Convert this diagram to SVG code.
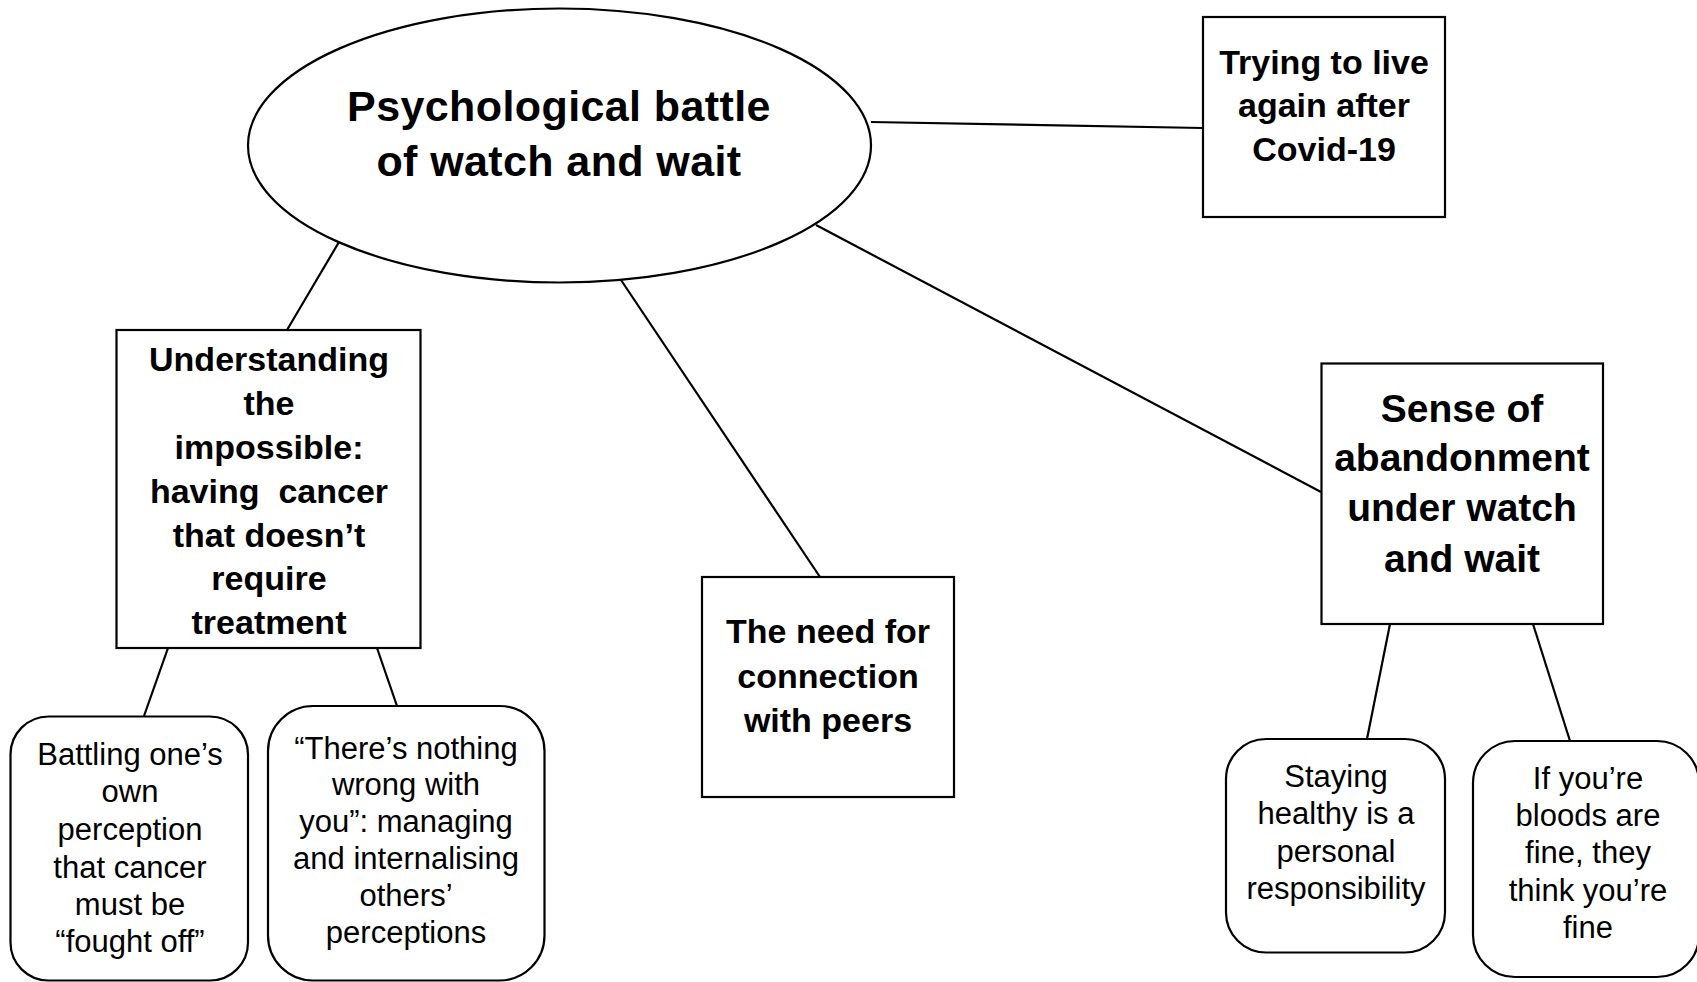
<svg xmlns="http://www.w3.org/2000/svg" width="1697" height="982" viewBox="0 0 1697 982">
<style>
.shape{fill:#fff;stroke:#000;stroke-width:2.2}
.conn line{stroke:#000;stroke-width:2.2}
text{font-family:"Liberation Sans",Arial,sans-serif;fill:#000;text-anchor:middle}
.b{font-weight:bold}
.s{font-size:31px}
</style>
<rect width="1697" height="982" fill="#fff"/>
<g id="connectors" class="conn">
<line x1="871" y1="122" x2="1203" y2="128"/>
<line x1="339" y1="242" x2="287" y2="330"/>
<line x1="621" y1="280" x2="820" y2="577"/>
<line x1="816" y1="225" x2="1321" y2="492"/>
<line x1="168" y1="648" x2="144" y2="716"/>
<line x1="377" y1="648" x2="397" y2="706"/>
<line x1="1390" y1="624" x2="1367" y2="739"/>
<line x1="1533" y1="624" x2="1570" y2="741"/>
</g>
<g id="n-main">
<ellipse class="shape" cx="559.5" cy="145.5" rx="311.5" ry="137"/>
<text class="b" font-size="43" letter-spacing="0.4"><tspan x="559" y="121">Psychological battle</tspan><tspan x="559" y="176">of watch and wait</tspan></text>
</g>
<g id="n-covid">
<rect class="shape" x="1203" y="17" width="242" height="200"/>
<text class="b" font-size="34"><tspan x="1324" y="74">Trying to live</tspan><tspan x="1324" y="117">again after</tspan><tspan x="1324" y="161">Covid-19</tspan></text>
</g>
<g id="n-understanding">
<rect class="shape" x="116.5" y="330" width="304" height="318"/>
<text class="b" font-size="34" xml:space="preserve"><tspan x="269" y="371">Understanding</tspan><tspan x="269" y="415">the</tspan><tspan x="269" y="459">impossible:</tspan><tspan x="269" y="503">having  cancer</tspan><tspan x="269" y="547">that doesn’t</tspan><tspan x="269" y="590">require</tspan><tspan x="269" y="634">treatment</tspan></text>
</g>
<g id="n-peers">
<rect class="shape" x="702" y="577" width="252" height="220"/>
<text class="b" font-size="34"><tspan x="828" y="643">The need for</tspan><tspan x="828" y="688">connection</tspan><tspan x="828" y="732">with peers</tspan></text>
</g>
<g id="n-abandonment">
<rect class="shape" x="1321.5" y="363.5" width="281.5" height="260.5"/>
<text class="b" font-size="39"><tspan x="1462" y="422">Sense of</tspan><tspan x="1462" y="471">abandonment</tspan><tspan x="1462" y="521">under watch</tspan><tspan x="1462" y="572">and wait</tspan></text>
</g>
<g id="n-battling">
<rect class="shape" x="10.5" y="716.5" width="237.5" height="264" rx="38"/>
<text class="s"><tspan x="130" y="765">Battling one’s</tspan><tspan x="130" y="802">own</tspan><tspan x="130" y="840">perception</tspan><tspan x="130" y="878">that cancer</tspan><tspan x="130" y="915">must be</tspan><tspan x="130" y="952">“fought off”</tspan></text>
</g>
<g id="n-nothing">
<rect class="shape" x="268" y="706" width="276.5" height="274.5" rx="45"/>
<text class="s"><tspan x="406" y="759">“There’s nothing</tspan><tspan x="406" y="795">wrong with</tspan><tspan x="406" y="832">you”: managing</tspan><tspan x="406" y="869">and internalising</tspan><tspan x="406" y="906">others’</tspan><tspan x="406" y="943">perceptions</tspan></text>
</g>
<g id="n-healthy">
<rect class="shape" x="1226" y="739" width="219" height="213.5" rx="40"/>
<text class="s"><tspan x="1336" y="787">Staying</tspan><tspan x="1336" y="824">healthy is a</tspan><tspan x="1336" y="862">personal</tspan><tspan x="1336" y="899">responsibility</tspan></text>
</g>
<g id="n-bloods">
<rect class="shape" x="1473" y="741" width="226" height="236" rx="42"/>
<text class="s"><tspan x="1588" y="789">If you’re</tspan><tspan x="1588" y="826">bloods are</tspan><tspan x="1588" y="863">fine, they</tspan><tspan x="1588" y="901">think you’re</tspan><tspan x="1588" y="938">fine</tspan></text>
</g>
</svg>
